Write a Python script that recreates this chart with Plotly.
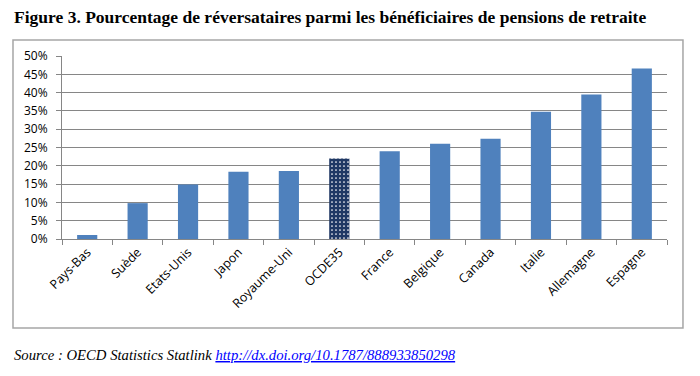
import plotly.graph_objects as go

countries = ["Pays-Bas", "Suède", "Etats-Unis", "Japon", "Royaume-Uni", "OCDE35",
             "France", "Belgique", "Canada", "Italie", "Allemagne", "Espagne"]
values = [1.1, 9.8, 14.9, 18.4, 18.6, 22.0, 24.0, 26.0, 27.4, 34.8, 39.5, 46.6]
y_ticks = [0, 5, 10, 15, 20, 25, 30, 35, 40, 45, 50]
y_tick_labels = [f"{v}%" for v in y_ticks]
highlight = "OCDE35"

blue = "#4F81BD"
navy = "#1F3864"

bar_colors = [navy if c == highlight else blue for c in countries]
shapes_p = ["." if c == highlight else "" for c in countries]

fig = go.Figure()
fig.add_trace(go.Bar(
    x=countries, y=values,
    marker=dict(
        color=bar_colors,
        line=dict(width=0),
        pattern=dict(shape=shapes_p, fgcolor="white", fgopacity=1,
                     size=4, solidity=0.15, fillmode="overlay"),
    ),
    hoverinfo="x+y",
))

# page body has an 8px margin, so the figure is offset by 8px
fig.update_layout(
    width=692, height=368,
    margin=dict(l=54, r=33, t=48, b=137, autoexpand=False),
    paper_bgcolor="white", plot_bgcolor="white",
    bargap=0.6, showlegend=False,
    font=dict(family="Open Sans, sans-serif", size=12, color="#000000"),
    xaxis=dict(
        type="category", tickangle=-45, tickson="boundaries",
        ticks="outside", ticklen=5, tickcolor="#868686",
        showline=True, linecolor="#868686", linewidth=1,
        showgrid=False, tickfont=dict(size=12.5, family="Open Sans, sans-serif"),
        automargin=False,
    ),
    yaxis=dict(
        range=[0, 50], tickvals=y_ticks, ticktext=y_tick_labels,
        ticks="outside", ticklen=5, tickcolor="#868686",
        showline=True, linecolor="#868686", linewidth=1,
        showgrid=True, gridcolor="#868686", gridwidth=1,
        zeroline=False, tickfont=dict(size=12, family="Open Sans, sans-serif"),
        ticklabelstandoff=6, automargin=False,
    ),
    shapes=[dict(type="rect", xref="paper", yref="paper",
                 x0=-0.081, x1=1.0264, y0=-0.486, y1=1.087,
                 line=dict(color="#A6A6A6", width=1.5), fillcolor="rgba(0,0,0,0)",
                 layer="below")],
    annotations=[
        dict(xref="paper", yref="paper", x=-0.083, y=1.215, xanchor="left", yanchor="middle",
             showarrow=False,
             text="<b>Figure 3. Pourcentage de réversataires parmi les bénéficiaires de pensions de retraite</b>",
             font=dict(family="Liberation Serif, Times New Roman, serif", size=17.5, color="#000000")),
        dict(xref="paper", yref="paper", x=-0.083, y=-0.634, xanchor="left", yanchor="middle",
             showarrow=False,
             text="<i>Source : OECD Statistics Statlink </i><a href='http://dx.doi.org/10.1787/888933850298'><span style='color:#0000FF;text-decoration:underline'><i>http://dx.doi.org/10.1787/888933850298</i></span></a>",
             font=dict(family="Liberation Serif, Times New Roman, serif", size=14.7, color="#000000")),
    ],
)

fig.write_html("out.html")
